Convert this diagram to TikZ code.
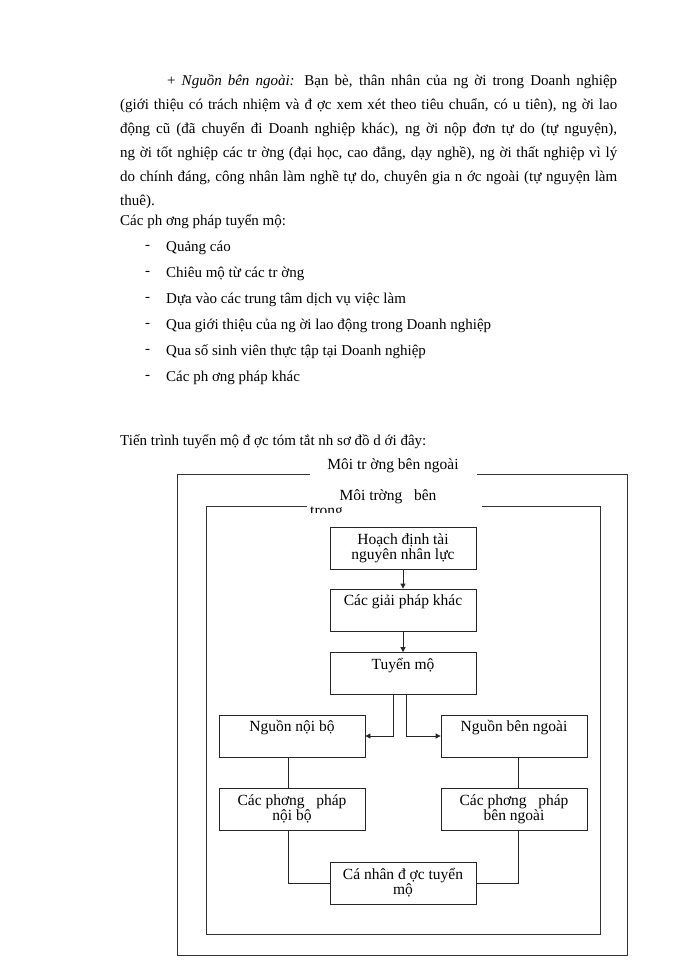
\documentclass[tikz,border=0pt]{standalone}
\usepackage{fontspec}
\setmainfont{Liberation Serif}
\usetikzlibrary{arrows.meta}
\begin{document}
\begin{tikzpicture}[x=1pt,y=-1pt,
  txt/.style={anchor=base west,inner sep=0pt,font=\fontsize{15}{16}\selectfont},
  jline/.style={anchor=base west,inner sep=0pt,font=\fontsize{15}{16}\selectfont},
  box/.style={draw=black!85,line width=0.8pt,minimum width=146pt,minimum height=42pt,inner sep=0pt,align=center,font=\fontsize{15.5}{15}\selectfont},
  frame/.style={draw=black!80,line width=0.8pt},
  conn/.style={draw=black!85,line width=0.8pt},
  arr/.style={conn,-{Triangle[length=5pt,width=5pt]}},
  ttl/.style={inner sep=0pt,font=\fontsize{15.5}{15}\selectfont}]
\useasboundingbox (0,0) rectangle (700,960);
\fill[white] (0,0) rectangle (700,960);
% paragraph
\node[jline] (l1) at (167,86) {\makebox[450pt][s]{+ \textit{Nguồn bên ngoài:} Bạn bè, thân nhân của ng ời trong Doanh nghiệp}};
\node[jline] (l2) at (120,110) {\makebox[497pt][s]{(giới thiệu có trách nhiệm và đ ợc xem xét theo tiêu chuẩn, có  u tiên), ng ời lao}};
\node[jline] (l3) at (120,134) {\makebox[497pt][s]{động cũ (đã chuyển đi Doanh nghiệp khác), ng ời nộp đơn tự do (tự nguyện),}};
\node[jline] (l4) at (120,158) {\makebox[497pt][s]{ng ời tốt nghiệp các tr ờng (đại học, cao đẳng, dạy nghề), ng ời thất nghiệp vì lý}};
\node[jline] (l5) at (120,182) {\makebox[497pt][s]{do chính đáng, công nhân làm nghề tự do, chuyên gia n ớc ngoài (tự nguyện làm}};
\node[txt] (l6) at (120,205) {thuê).};
\node[txt] (h1) at (120,225) {Các ph ơng pháp tuyển mộ:};
\foreach \y/\t [count=\i] in {251/Quảng cáo,277/Chiêu mộ từ các tr ờng,303/Dựa vào các trung tâm dịch vụ việc làm,329/Qua giới thiệu của ng ời lao động trong Doanh nghiệp,355/Qua số sinh viên thực tập tại Doanh nghiệp,381/Các ph ơng pháp khác}{
  \node[txt] (d\i) at (145,\y-2) {-};
  \node[txt] (b\i) at (166,\y) {\t};
}
\node[txt] (h2) at (120,445) {Tiến trình tuyển mộ đ ợc tóm tắt nh  sơ đồ d ới đây:};
% frames
\draw[frame] (310,474) -- (177,474) -- (177,955) -- (627,955) -- (627,474) -- (477,474);
\node[ttl] (t1) at (393,466) {Môi tr ờng bên ngoài};
\draw[frame] (307,506) -- (206,506) -- (206,934) -- (600,934) -- (600,506) -- (482,506);
\node[ttl] (t2) at (388,497) {Môi trờng\ \ \ bên};
\begin{scope}
\clip (300,500) rectangle (350,512);
\node[ttl,anchor=west] (t3) at (310,513) {trong};
\end{scope}
% boxes
\node[box] (a) at (403,548) {Hoạch định tài\\nguyên nhân lực};
\node[box] (b) at (403,610) {Các giải pháp khác\\\strut};
\node[box] (c) at (403,673.5) {Tuyển mộ\\\strut};
\node[box] (n1) at (292,736) {Nguồn nội bộ\\\strut};
\node[box] (n2) at (514,736) {Nguồn bên ngoài\\\strut};
\node[box] (p1) at (292,809) {Các phơng\ \ \ pháp\\nội bộ};
\node[box] (p2) at (514,809) {Các phơng\ \ \ pháp\\bên ngoài};
\node[box] (k) at (403,883) {Cá nhân đ ợc tuyển\\mộ};
% connectors
\draw[arr] (a) -- (b);
\draw[arr] (b) -- (c);
\draw[arr] ([xshift=-10pt]c.south) |- (n1.east);
\draw[arr] ([xshift=3pt]c.south) |- (n2.west);
\draw[conn] ([xshift=-4pt]n1.south) -- ([xshift=-4pt]p1.north);
\draw[conn] ([xshift=4pt]n2.south) -- ([xshift=4pt]p2.north);
\draw[conn] ([xshift=-4pt]p1.south) |- (k.west);
\draw[conn] ([xshift=4pt]p2.south) |- (k.east);
\end{tikzpicture}
\end{document}
